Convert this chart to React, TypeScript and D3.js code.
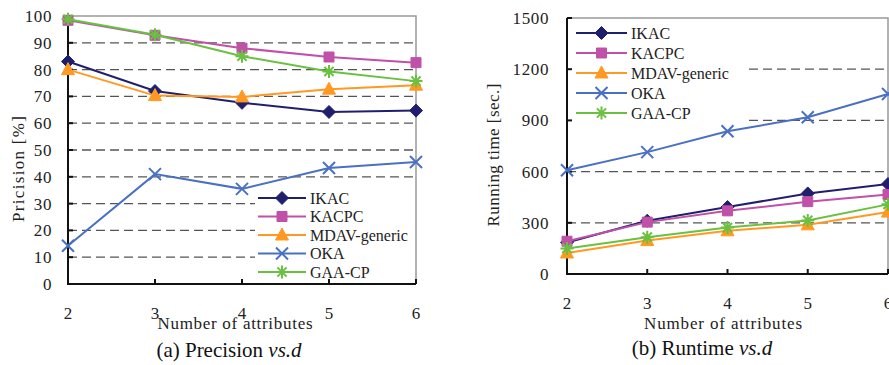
import React, { useEffect, useRef } from 'react';
import * as d3 from 'd3';

const attributes = [2, 3, 4, 5, 6];
const methods = ['IKAC', 'KACPC', 'MDAV-generic', 'OKA', 'GAA-CP'];
const colors = ['#1f1f6e', '#c050a8', '#ff9922', '#4a70c4', '#6ac040'];
const markers = ['diamond', 'square', 'triangle', 'times', 'asterisk'];

// precision [%]
const precIKAC = [83, 72, 67.6, 64.2, 64.7];
const precKACPC = [98.4, 92.8, 88, 84.7, 82.6];
const precMDAV = [80, 70.3, 69.8, 72.7, 74.2];
const precOKA = [14.3, 41, 35.5, 43.3, 45.5];
const precGAA = [98.8, 93, 85, 79.3, 75.7];
const precTicks = [0, 10, 20, 30, 40, 50, 60, 70, 80, 90, 100];

// running time [sec.]
const timeIKAC = [185, 312, 392, 472, 527];
const timeKACPC = [192, 304, 370, 424, 466];
const timeMDAV = [123, 196, 253, 288, 363];
const timeOKA = [608, 714, 836, 918, 1055];
const timeGAA = [150, 216, 272, 314, 408];
const timeTicks = [0, 300, 600, 900, 1200, 1500];

const FONT = '"Liberation Serif", "Times New Roman", serif';

const markerPath = (type: string) => {
  switch (type) {
    case 'diamond': return 'M0,-6.5L6.5,0L0,6.5L-6.5,0Z';
    case 'square': return 'M-5,-5H5V5H-5Z';
    case 'triangle': return 'M0,-7L6.5,5L-6.5,5Z';
    case 'times': return 'M-6,-6L6,6M-6,6L6,-6';
    default: return 'M-6.5,0H6.5M0,-6.5V6.5M-4.6,-4.6L4.6,4.6M-4.6,4.6L4.6,-4.6';
  }
};

const drawMarker = (g: any, type: string, color: string, x: number, y: number) => {
  const filled = type === 'diamond' || type === 'square' || type === 'triangle';
  g.append('path')
    .attr('d', markerPath(type))
    .attr('transform', `translate(${x},${y})`)
    .attr('fill', filled ? color : 'none')
    .attr('stroke', color)
    .attr('stroke-width', filled ? 1 : 2);
};

const drawPanel = (svg: any, cfg: any) => {
  const x = d3.scaleLinear().domain([2, 6]).range([cfg.left, cfg.right]);
  const y = d3.scaleLinear().domain(cfg.domain).range([cfg.bottom, cfg.top]);
  const g = svg.append('g');

  // grid
  cfg.ticks.slice(1, -1).forEach((t: number) => {
    g.append('line')
      .attr('x1', cfg.left).attr('x2', cfg.right)
      .attr('y1', y(t)).attr('y2', y(t))
      .attr('stroke', '#555').attr('stroke-width', 1.3)
      .attr('stroke-dasharray', '9,5');
  });

  // legend box hides the grid behind it
  const lg = cfg.legend;
  g.append('rect')
    .attr('x', lg.x0).attr('y', lg.y0)
    .attr('width', lg.x1 - lg.x0).attr('height', lg.y1 - lg.y0)
    .attr('fill', '#fff');

  // frame
  g.append('path')
    .attr('d', `M${cfg.left},${cfg.top}H${cfg.right}V${cfg.bottom}`)
    .attr('fill', 'none').attr('stroke', '#999').attr('stroke-width', 1.5);

  // axes
  g.append('path')
    .attr('d', `M${cfg.left},${cfg.top}V${cfg.bottom}H${cfg.right}`)
    .attr('fill', 'none').attr('stroke', '#111').attr('stroke-width', 2);
  cfg.ticks.forEach((t: number) => {
    g.append('line')
      .attr('x1', cfg.left).attr('x2', cfg.left + 5)
      .attr('y1', y(t)).attr('y2', y(t))
      .attr('stroke', '#111').attr('stroke-width', 2);
    g.append('text')
      .attr('x', cfg.left - cfg.ylabGap).attr('y', y(t)).attr('dy', '0.35em')
      .attr('text-anchor', 'end')
      .attr('font-family', FONT).attr('font-size', 17).attr('letter-spacing', 0.6)
      .attr('fill', '#222')
      .text(t);
  });
  attributes.forEach((a) => {
    g.append('line')
      .attr('x1', x(a)).attr('x2', x(a))
      .attr('y1', cfg.bottom).attr('y2', cfg.bottom - 5)
      .attr('stroke', '#111').attr('stroke-width', 2);
    g.append('text')
      .attr('x', x(a)).attr('y', cfg.xlabY)
      .attr('text-anchor', 'middle')
      .attr('font-family', FONT).attr('font-size', 17)
      .attr('fill', '#222')
      .text(a);
  });

  // series
  const line = d3.line<number>().x((d, i) => x(attributes[i])).y((d) => y(d));
  cfg.series.forEach((s: number[], k: number) => {
    g.append('path')
      .datum(s)
      .attr('fill', 'none')
      .attr('stroke', colors[k])
      .attr('stroke-width', 2)
      .attr('d', line);
    s.forEach((v, i) => drawMarker(g, markers[k], colors[k], x(attributes[i]), y(v)));
  });

  // legend entries
  methods.forEach((m, k) => {
    const ry = lg.rowY + k * lg.step;
    g.append('line')
      .attr('x1', lg.lineX0).attr('x2', lg.lineX1)
      .attr('y1', ry).attr('y2', ry)
      .attr('stroke', colors[k]).attr('stroke-width', 2);
    drawMarker(g, markers[k], colors[k], (lg.lineX0 + lg.lineX1) / 2, ry);
    g.append('text')
      .attr('x', lg.lineX1 + 4).attr('y', ry).attr('dy', '0.35em')
      .attr('font-family', FONT).attr('font-size', 16)
      .attr('fill', '#222')
      .text(m);
  });

  // titles
  g.append('text')
    .attr('transform', `translate(${cfg.ytitle.x},${cfg.ytitle.y}) rotate(-90)`)
    .attr('dy', '0.35em')
    .attr('text-anchor', 'middle')
    .attr('font-family', FONT).attr('font-size', 17)
    .attr('textLength', cfg.ytitle.len).attr('lengthAdjust', 'spacing')
    .attr('fill', '#222')
    .text(cfg.ytitle.text);
  g.append('text')
    .attr('x', cfg.xtitle.x).attr('y', cfg.xtitle.y)
    .attr('text-anchor', 'middle')
    .attr('font-family', FONT).attr('font-size', 17)
    .attr('textLength', cfg.xtitle.len).attr('lengthAdjust', 'spacing')
    .attr('fill', '#222')
    .text('Number of attributes');

  const cap = g.append('text')
    .attr('x', cfg.caption.x).attr('y', cfg.caption.y)
    .attr('text-anchor', 'middle')
    .attr('font-family', FONT).attr('font-size', 21)
    .attr('fill', '#111');
  cap.append('tspan').text(cfg.caption.text + ' ');
  cap.append('tspan').attr('font-style', 'italic').text('vs.d');
};

const App = () => {
  const ref = useRef<SVGSVGElement>(null);

  useEffect(() => {
    const svg = d3.select(ref.current);
    svg.selectAll('*').remove();

    drawPanel(svg, {
      left: 68, right: 416, top: 16, bottom: 284,
      domain: [0, 100], ticks: precTicks, ylabGap: 16, xlabY: 319,
      series: [precIKAC, precKACPC, precMDAV, precOKA, precGAA],
      legend: { x0: 255, x1: 415, y0: 187, y1: 282, rowY: 198, step: 18.5, lineX0: 258, lineX1: 306 },
      ytitle: { x: 18, y: 169, len: 106, text: 'Pricision [%]' },
      xtitle: { x: 235, y: 329, len: 155 },
      caption: { x: 229, y: 357, text: '(a)  Precision' },
    });

    drawPanel(svg, {
      left: 567, right: 888, top: 18, bottom: 274,
      domain: [0, 1500], ticks: timeTicks, ylabGap: 18, xlabY: 309,
      series: [timeIKAC, timeKACPC, timeMDAV, timeOKA, timeGAA],
      legend: { x0: 568, x1: 745, y0: 19, y1: 126, rowY: 33, step: 20, lineX0: 576, lineX1: 627 },
      ytitle: { x: 493, y: 155, len: 143, text: 'Running time [sec.]' },
      xtitle: { x: 723, y: 329, len: 158 },
      caption: { x: 702, y: 355, text: '(b)  Runtime' },
    });
  }, []);

  return (
    <svg
      ref={ref}
      width={889}
      height={365}
      style={{ position: 'absolute', left: 0, top: 0, background: '#fff' }}
    />
  );
};

export default App;
